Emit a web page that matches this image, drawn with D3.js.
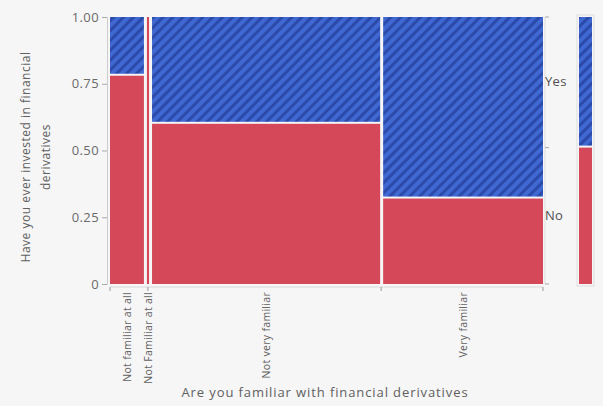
<!DOCTYPE html>
<html>
<head>
<meta charset="utf-8">
<script src="https://cdn.jsdelivr.net/npm/d3@7"></script>
<style>
  html, body { margin: 0; padding: 0; background: #f6f6f6; }
  svg { display: block; }
  text { font-family: "Open Sans", "DejaVu Sans", sans-serif; fill: #606060; }
</style>
</head>
<body>
<svg id="chart" width="603" height="406"></svg>
<script>
// Familiarity groups (x) with their share of respondents (column widths)
const categories = ["Not familiar at all", "Not Familiar at all", "Not very familiar", "Very familiar"];
const groupShare = [0.080, 0.005, 0.538, 0.377];
// Share answering "No" within each group (rest answered "Yes")
const noShare = [0.78, 1.00, 0.60, 0.32];
const responses = ["No", "Yes"];
const yTicks = [0, 0.25, 0.5, 0.75, 1];
const yTickLabels = ["0", "0.25", "0.50", "0.75", "1.00"];

const svg = d3.select("#chart");
const plotL = 110, plotR = 543, plotT = 17, plotB = 284;
const gap = 3;

const colors = { No: "#d4485a", Yes: "#3f68d2" };

// diagonal hatch for the "Yes" cells
const defs = svg.append("defs");
const pat = defs.append("pattern")
  .attr("id", "hatch")
  .attr("patternUnits", "userSpaceOnUse")
  .attr("width", 7).attr("height", 7)
  .attr("patternTransform", "rotate(45)");
pat.append("rect").attr("width", 7).attr("height", 7).attr("fill", colors.Yes);
pat.append("rect").attr("x", 0).attr("width", 3).attr("height", 7).attr("fill", "#2b4aaa");

const y = d3.scaleLinear().domain([0, 1]).range([plotB, plotT]);
const x = d3.scaleLinear().domain([0, 1]).range([plotL, plotR - gap * (categories.length - 1)]);

// column layout from cumulative shares
let cum = 0;
const cols = categories.map((c, i) => {
  const x0 = x(cum) + i * gap;
  cum += groupShare[i];
  const x1 = x(cum) + i * gap;
  return { cat: c, x0, x1, no: noShare[i] };
});

// mosaic cells
const g = svg.append("g");
cols.forEach(col => {
  const w = Math.max(col.x1 - col.x0, 1.5);
  g.append("rect")
    .attr("x", col.x0).attr("width", w)
    .attr("y", y(col.no)).attr("height", y(0) - y(col.no))
    .attr("fill", colors.No);
  if (col.no < 1) {
    g.append("rect")
      .attr("x", col.x0).attr("width", w)
      .attr("y", y(1)).attr("height", y(col.no) - y(1) - 2)
      .attr("fill", "url(#hatch)");
  }
});

// y axis
const yAxis = d3.axisLeft(y).tickValues(yTicks)
  .tickFormat((d, i) => yTickLabels[i]).tickSize(5).tickPadding(3);
const ya = svg.append("g").attr("transform", `translate(${plotL - 3},0)`).call(yAxis);
ya.select(".domain").attr("stroke", "#ccc");
ya.selectAll(".tick line").attr("stroke", "#aaa");
ya.selectAll(".tick text").attr("font-size", 13).attr("letter-spacing", 0.4).style("fill", "#6a6a6a");

// x axis line and boundary ticks
const xg = svg.append("g");
xg.append("line").attr("x1", plotL).attr("x2", plotR).attr("y1", plotB + 3).attr("y2", plotB + 3)
  .attr("stroke", "#d8d8d8");
const bounds = [plotL, cols[1].x0 + 1, cols[2].x1 + 1, plotR];
xg.selectAll(".bt").data(bounds).join("line")
  .attr("x1", d => d).attr("x2", d => d)
  .attr("y1", plotB + 3).attr("y2", plotB + 7)
  .attr("stroke", "#999");

// rotated category labels
xg.selectAll(".cl").data(cols).join("text")
  .attr("transform", d => `translate(${(d.x0 + d.x1) / 2 + 4},${plotB + 8}) rotate(-90)`)
  .attr("text-anchor", "end")
  .attr("font-size", 10.5)
  .attr("letter-spacing", 0.3)
  .text(d => d.cat);

// x title
svg.append("text").attr("x", 325).attr("y", 397).attr("text-anchor", "middle")
  .attr("font-size", 13).attr("letter-spacing", 0.9)
  .text("Are you familiar with financial derivatives");

// y title (two lines)
const yt = svg.append("text")
  .attr("transform", "translate(34,157) rotate(-90)")
  .attr("text-anchor", "middle").attr("font-size", 12).attr("letter-spacing", 0.5);
yt.append("tspan").attr("x", 0).attr("dy", "-0.3em").text("Have you ever invested in financial");
yt.append("tspan").attr("x", 0).attr("dy", "1.6em").text("derivatives");

// overall margin bar on the right
const overallNo = d3.sum(groupShare.map((s, i) => s * noShare[i])) / d3.sum(groupShare);
const mx = 579, mw = 13;
svg.append("rect").attr("x", mx - 2).attr("y", plotT - 2).attr("width", mw + 4).attr("height", plotB - plotT + 4)
  .attr("fill", "none").attr("stroke", "#ddd");
svg.append("rect").attr("x", mx).attr("width", mw)
  .attr("y", y(overallNo)).attr("height", y(0) - y(overallNo)).attr("fill", colors.No);
svg.append("rect").attr("x", mx).attr("width", mw)
  .attr("y", y(1)).attr("height", y(overallNo) - y(1) - 2).attr("fill", "url(#hatch)");

// right axis with response labels
const ra = svg.append("g");
ra.append("line").attr("x1", plotR + 2).attr("x2", plotR + 2).attr("y1", plotT).attr("y2", plotB)
  .attr("stroke", "#ddd");
ra.selectAll(".rt").data([1, overallNo, 0]).join("line")
  .attr("x1", plotR + 2).attr("x2", plotR + 6)
  .attr("y1", d => y(d)).attr("y2", d => y(d)).attr("stroke", "#aaa");
const mids = [overallNo / 2, (1 + overallNo) / 2];
ra.selectAll(".rl").data(responses).join("text")
  .attr("x", plotR + 2).attr("y", (d, i) => y(mids[i]) + 4)
  .attr("font-size", 13).attr("letter-spacing", 0.3).style("fill", "#505050").text(d => d);
</script>
</body>
</html>
